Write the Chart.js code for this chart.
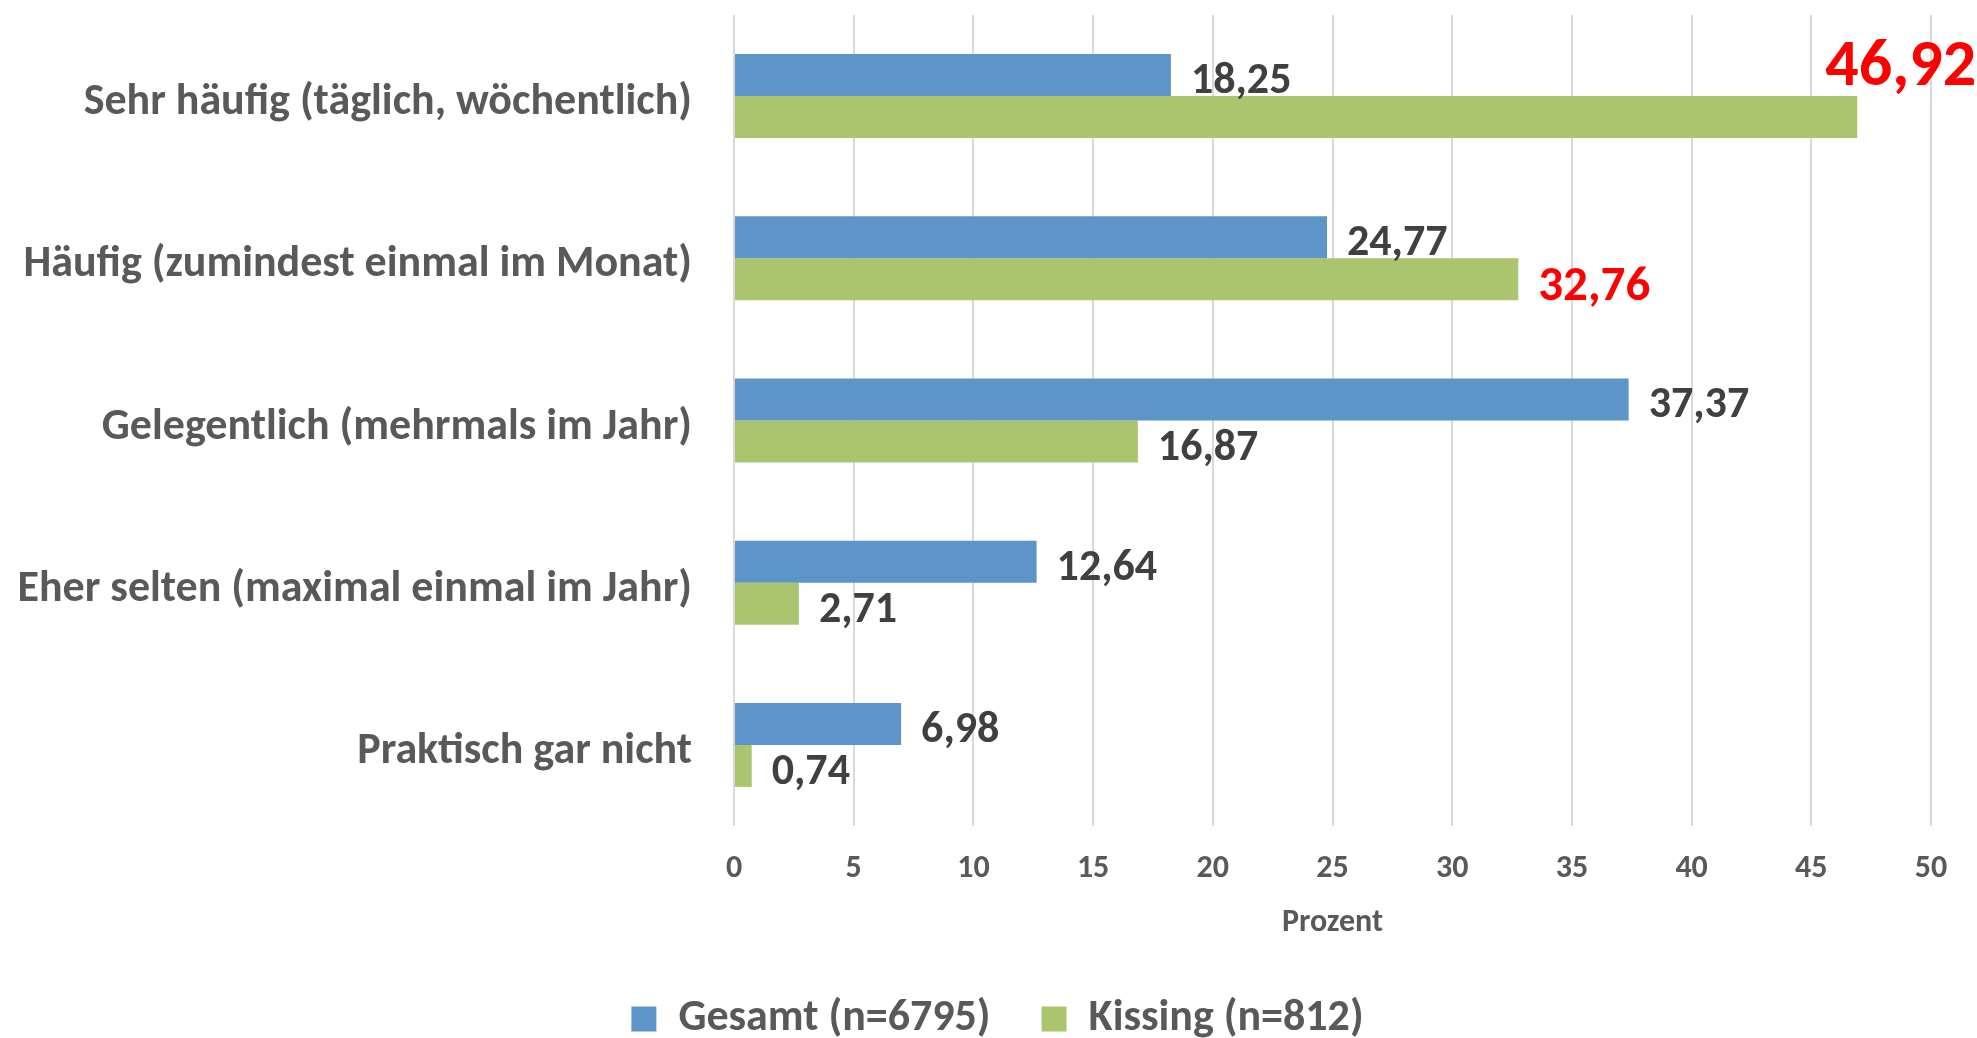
<!DOCTYPE html>
<html>
<head>
<meta charset="utf-8">
<script src="https://cdn.jsdelivr.net/npm/chart.js@4.4.1/dist/chart.umd.min.js"></script>
<style>
  html, body { margin: 0; padding: 0; background: #fff; }
  #wrap { width: 1977px; height: 1038px; }
</style>
</head>
<body>
<div id="wrap"><canvas id="chart"></canvas></div>
<script>
const categories = [
  'Sehr häufig (täglich, wöchentlich)',
  'Häufig (zumindest einmal im Monat)',
  'Gelegentlich (mehrmals im Jahr)',
  'Eher selten (maximal einmal im Jahr)',
  'Praktisch gar nicht'
];
const gesamt = [18.25, 24.77, 37.37, 12.64, 6.98];
const kissing = [46.92, 32.76, 16.87, 2.71, 0.74];
const seriesNames = ['Gesamt (n=6795)', 'Kissing (n=812)'];

const FONT = "Carlito, Lato, 'Open Sans', sans-serif";
const grey = '#595959';

// highlighted labels of the Kissing series (index -> style)
const highlight = {
  0: { color: '#ff0000', size: 66, dx: -32, dy: -49 },
  1: { color: '#ff0000', size: 49, dx: 20, dy: 8 }
};

function fmt(v) {
  return v.toFixed(2).replace('.', ',');
}

const valueLabels = {
  id: 'valueLabels',
  afterDatasetsDraw(chart) {
    const ctx = chart.ctx;
    ctx.save();
    ctx.textAlign = 'left';
    ctx.textBaseline = 'middle';
    chart.data.datasets.forEach((ds, di) => {
      const meta = chart.getDatasetMeta(di);
      meta.data.forEach((bar, i) => {
        let color = '#404040', size = 44, dx = 20, dy = 7;
        if (di === 1 && highlight[i]) {
          ({ color, size, dx, dy } = highlight[i]);
        }
        ctx.fillStyle = color;
        ctx.font = 'bold ' + size + 'px ' + FONT;
        ctx.fillText(fmt(ds.data[i]), bar.x + dx, bar.y + dy);
      });
    });
    ctx.restore();
  }
};

// nudge the legend a little to the right, as in the original
const legendShift = {
  id: 'legendShift',
  afterLayout(chart) {
    if (chart.legend) {
      chart.legend.left += 32;
      chart.legend.right += 32;
    }
  }
};

new Chart(document.getElementById('chart'), {
  type: 'bar',
  data: {
    labels: categories,
    datasets: [
      {
        label: seriesNames[0],
        data: gesamt,
        backgroundColor: '#5e95c8',
        categoryPercentage: 0.518,
        barPercentage: 1
      },
      {
        label: seriesNames[1],
        data: kissing,
        backgroundColor: '#abc46e',
        categoryPercentage: 0.518,
        barPercentage: 1
      }
    ]
  },
  options: {
    indexAxis: 'y',
    responsive: true,
    maintainAspectRatio: false,
    animation: false,
    layout: { padding: { top: 15, right: 46, left: 0, bottom: -13 } },
    scales: {
      x: {
        min: 0,
        max: 50,
        ticks: {
          stepSize: 5,
          color: grey,
          padding: 24,
          font: { family: FONT, size: 32, weight: 'bold' }
        },
        grid: { color: '#d9d9d9', lineWidth: 2, drawTicks: false },
        border: { display: false },
        title: {
          display: true,
          text: 'Prozent',
          color: grey,
          font: { family: FONT, size: 32, weight: 'bold' },
          padding: { top: 0, bottom: 4 }
        },
        afterFit(scale) {
          scale.height = 120;
          scale.paddingLeft = 0;
          scale.paddingRight = 0;
        }
      },
      y: {
        ticks: {
          color: grey,
          padding: 42,
          labelOffset: 7,
          font: { family: FONT, size: 44, weight: 'bold' }
        },
        grid: { display: false, drawTicks: false },
        border: { display: false },
        afterFit(scale) {
          scale.width = 734;
          scale.paddingTop = 0;
          scale.paddingBottom = 0;
        }
      }
    },
    plugins: {
      legend: {
        position: 'bottom',
        labels: {
          color: grey,
          boxWidth: 25,
          boxHeight: 25,
          padding: 51,
          font: { family: FONT, size: 44, weight: 'bold' }
        }
      },
      tooltip: { enabled: false }
    }
  },
  plugins: [valueLabels, legendShift]
});
</script>
</body>
</html>
